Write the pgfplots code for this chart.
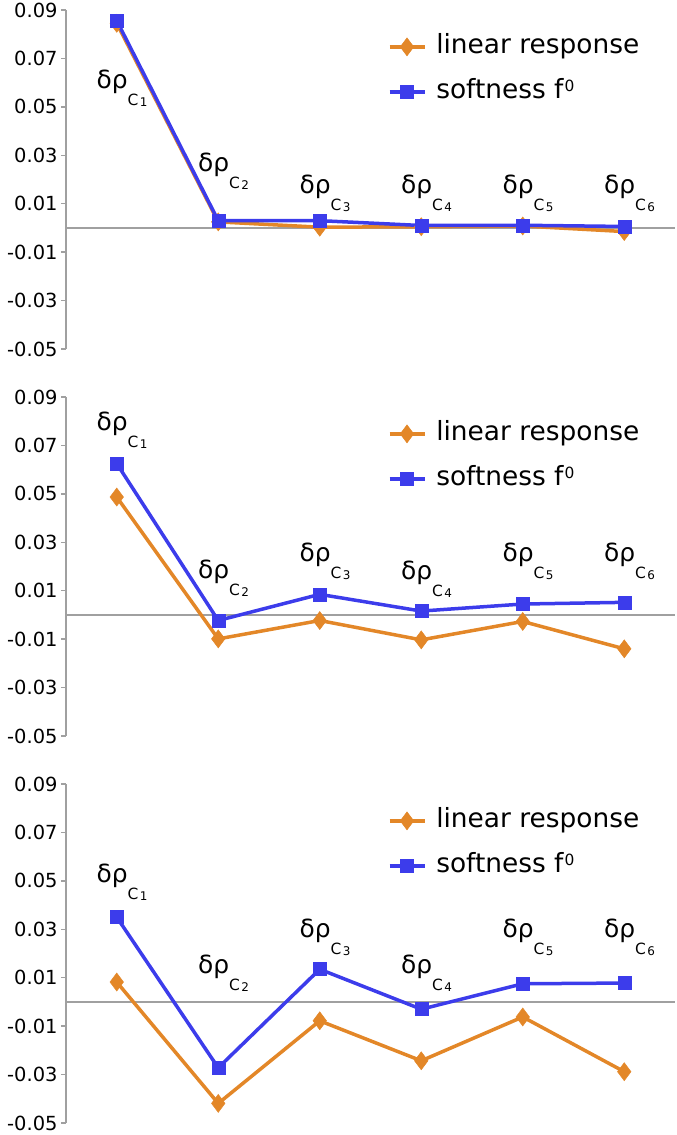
\documentclass[border=0pt]{standalone}
\usepackage{pgfplots}
\pgfplotsset{compat=1.18}
\usepackage{pgfplotstable}
\usepackage{fontspec}
\setmainfont{DejaVu Sans}
\definecolor{cor}{RGB}{227,135,40}
\definecolor{cbl}{RGB}{60,60,235}
\definecolor{cax}{RGB}{160,160,160}
\newcommand{\dlab}[1]{\fontsize{25}{30}\selectfont δρ\raisebox{-17bp}{\fontsize{15.5}{15}\selectfont C\kern1.5bp\raisebox{-1bp}{\fontsize{12}{12}\selectfont #1}}}
\newcommand{\fzero}{f\kern1bp\raisebox{7bp}{\fontsize{15.5}{15}\selectfont 0}}
\tikzset{lbl/.style={anchor=base west, inner sep=0pt}}

\pgfplotstableread{
x lin soft
0.5 0.0845 0.0856
1.5 0.0025 0.0030
2.5 0.0003 0.0030
3.5 0.0005 0.0010
4.5 0.0008 0.0011
5.5 -0.0015 0.0006
}\dataA
\pgfplotstableread{
x lin soft
0.5 0.0487 0.0625
1.5 -0.0099 -0.0023
2.5 -0.0023 0.0085
3.5 -0.0103 0.0016
4.5 -0.0027 0.0045
5.5 -0.0140 0.0052
}\dataB
\pgfplotstableread{
x lin soft
0.5 0.0082 0.0350
1.5 -0.0419 -0.0272
2.5 -0.0078 0.0135
3.5 -0.0243 -0.0030
4.5 -0.0062 0.0075
5.5 -0.0288 0.0078
}\dataC

\pgfplotsset{panel/.style={
  width=609bp, height=339bp, scale only axis,
  xmin=0, xmax=6, ymin=-0.05, ymax=0.09,
  axis x line=none, axis y line*=left,
  axis line style={cax, line width=2bp},
  ytick={-0.05,-0.03,-0.01,0.01,0.03,0.05,0.07,0.09},
  scaled y ticks=false,
  tick align=outside, major tick length=5bp,
  major tick style={cax, line width=1.5bp},
  yticklabel style={font=\fontsize{19.5}{20}\selectfont, /pgf/number format/fixed, /pgf/number format/fixed zerofill,
  /pgf/number format/precision=2},
  /pgf/number format/assume math mode=true,
  clip=false,
  legend style={draw=none, fill=none, at={(axis cs:3.17,0.0818)}, anchor=north west,
    inner sep=0pt, outer sep=0pt, font=\fontsize{26.5}{30}\selectfont, row sep=11bp,
    nodes={text height=20bp, text depth=6bp, inner sep=4bp},
    /tikz/every odd column/.append style={column sep=6bp}},
  legend cell align=left,
  legend image code/.code={\draw[mark repeat=2, mark phase=2, #1] plot coordinates {(0bp,0bp) (17.5bp,0bp) (35bp,0bp)};},
  lin/.style={cor, line width=3.5bp, mark=diamond*, mark size=9bp, mark options={solid, line width=0.5bp}},
  sof/.style={cbl, line width=3.5bp, mark=square*, mark size=6.5bp, mark options={solid, line width=0.5bp}},
  zl/.style={cax, line width=2bp, forget plot},
}}

\begin{document}
\begin{tikzpicture}
\useasboundingbox (0,0) rectangle (677bp,-1135bp);
% Panel 1
\begin{axis}[panel, at={(66bp,-349bp)}, anchor=south west]
\addplot[zl] coordinates {(0,0) (6,0)};
\addplot[lin] table[x=x,y=lin]{\dataA};
\addplot[sof] table[x=x,y=soft]{\dataA};
\legend{linear response, softness \fzero}
\node[lbl] at (axis cs:0.3,0.0576) {\dlab{1}};
\node[lbl] at (axis cs:1.3,0.0231) {\dlab{2}};
\node[lbl] at (axis cs:2.3,0.0144) {\dlab{3}};
\node[lbl] at (axis cs:3.3,0.0144) {\dlab{4}};
\node[lbl] at (axis cs:4.3,0.0144) {\dlab{5}};
\node[lbl] at (axis cs:5.3,0.0144) {\dlab{6}};
\end{axis}
% Panel 2
\begin{axis}[panel, at={(66bp,-736bp)}, anchor=south west]
\addplot[zl] coordinates {(0,0) (6,0)};
\addplot[lin] table[x=x,y=lin]{\dataB};
\addplot[sof] table[x=x,y=soft]{\dataB};
\legend{linear response, softness \fzero}
\node[lbl] at (axis cs:0.3,0.0762) {\dlab{1}};
\node[lbl] at (axis cs:1.3,0.0151) {\dlab{2}};
\node[lbl] at (axis cs:2.3,0.0220) {\dlab{3}};
\node[lbl] at (axis cs:3.3,0.0147) {\dlab{4}};
\node[lbl] at (axis cs:4.3,0.0220) {\dlab{5}};
\node[lbl] at (axis cs:5.3,0.0220) {\dlab{6}};
\end{axis}
% Panel 3
\begin{axis}[panel, at={(66bp,-1123bp)}, anchor=south west]
\addplot[zl] coordinates {(0,0) (6,0)};
\addplot[lin] table[x=x,y=lin]{\dataC};
\addplot[sof] table[x=x,y=soft]{\dataC};
\legend{linear response, softness \fzero}
\node[lbl] at (axis cs:0.3,0.0494) {\dlab{1}};
\node[lbl] at (axis cs:1.3,0.0117) {\dlab{2}};
\node[lbl] at (axis cs:2.3,0.0268) {\dlab{3}};
\node[lbl] at (axis cs:3.3,0.0117) {\dlab{4}};
\node[lbl] at (axis cs:4.3,0.0268) {\dlab{5}};
\node[lbl] at (axis cs:5.3,0.0268) {\dlab{6}};
\end{axis}
\end{tikzpicture}
\end{document}
